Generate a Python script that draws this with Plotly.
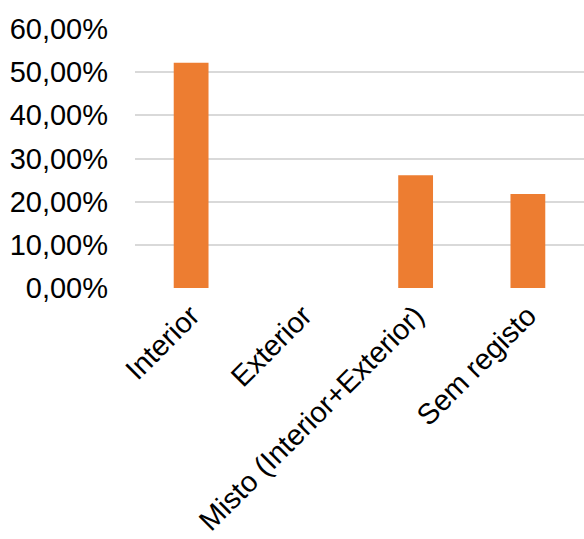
import plotly.graph_objects as go

categories = ["Interior", "Exterior", "Misto (Interior+Exterior)", "Sem registo"]
shares = [0.522, 0.0, 0.261, 0.218]
y_ticks = [0, 0.1, 0.2, 0.3, 0.4, 0.5, 0.6]

fig = go.Figure(
    go.Bar(
        x=categories,
        y=shares,
        marker=dict(color="#ED7D31", line=dict(width=0)),
        width=0.31,
    )
)

font_family = "Liberation Sans, Arial, sans-serif"

fig.update_layout(
    width=584,
    height=539,
    margin=dict(l=135, r=0, t=29, b=251, autoexpand=False),
    paper_bgcolor="white",
    plot_bgcolor="white",
    separators=",.",
    showlegend=False,
    font=dict(family=font_family, size=29, color="#000000"),
    xaxis=dict(
        tickangle=-45,
        automargin=False,
        showgrid=False,
        showline=False,
        zeroline=False,
        ticks="",
        ticklabelstandoff=4,
        tickfont=dict(size=29),
    ),
    yaxis=dict(
        range=[0, 0.6],
        tickvals=y_ticks,
        tickformat=".2%",
        automargin=False,
        showgrid=True,
        gridcolor="#D9D9D9",
        gridwidth=1.6,
        zeroline=False,
        showline=False,
        ticks="",
        ticklabelstandoff=26,
        tickfont=dict(size=29),
    ),
)

fig.write_html("out.html")
